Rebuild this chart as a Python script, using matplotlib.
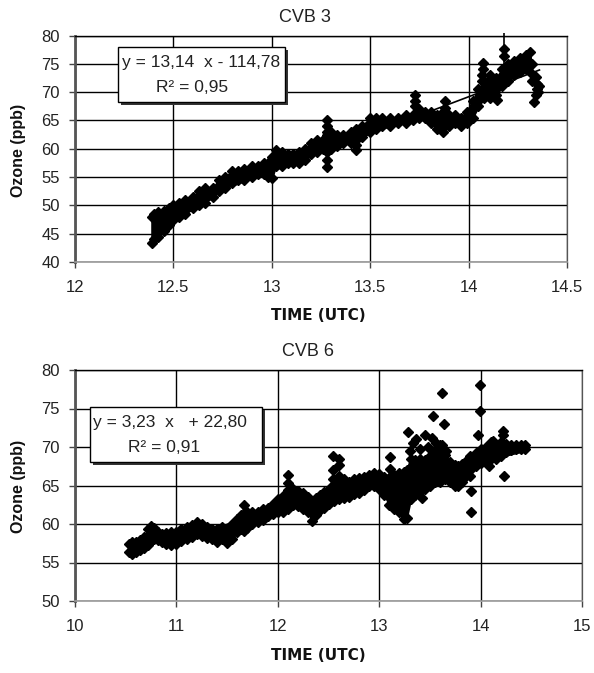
import matplotlib
matplotlib.use("Agg")
import matplotlib.pyplot as plt
from matplotlib.patches import Rectangle
import numpy as np

# ---------------- data: CVB 3 ----------------
cvb3_x  = [12.39, 12.40, 12.42, 12.45, 12.48, 12.50, 12.53, 12.56, 12.60, 12.63, 12.66, 12.70,
           12.73, 12.76, 12.80, 12.83, 12.86, 12.90, 12.93, 12.96, 12.98, 13.00, 13.02, 13.05,
           13.08, 13.11, 13.14, 13.17, 13.20, 13.23, 13.26, 13.28, 13.30, 13.33, 13.36, 13.40,
           13.43, 13.46, 13.50, 13.53, 13.56, 13.60, 13.64, 13.68, 13.72, 13.75, 13.78, 13.81,
           13.84, 13.87, 13.90, 13.93, 13.96, 13.99, 14.02, 14.05, 14.08, 14.11, 14.14, 14.17,
           14.20, 14.23, 14.26, 14.29, 14.31, 14.32]
cvb3_lo = [43.3, 44.0, 44.5, 45.5, 46.5, 47.5, 48.0, 48.5, 49.5, 50.0, 50.5, 51.5,
           52.5, 53.0, 54.0, 54.5, 54.5, 55.0, 55.5, 55.5, 55.0, 54.8, 57.0, 57.0,
           57.5, 57.5, 57.5, 58.0, 59.0, 59.5, 60.0, 59.5, 60.0, 60.5, 61.0, 61.0,
           61.5, 62.0, 63.0, 63.5, 64.0, 64.0, 64.5, 64.5, 65.0, 65.5, 65.5, 64.5,
           63.5, 63.0, 64.0, 64.5, 64.0, 64.5, 65.5, 67.5, 69.0, 69.0, 69.5, 71.0,
           72.0, 73.0, 73.5, 74.0, 73.5, 72.0]
cvb3_hi = [48.0, 48.5, 48.9, 49.0, 49.5, 50.0, 50.5, 51.0, 51.5, 52.5, 53.0, 53.0,
           54.5, 55.0, 56.0, 56.0, 56.5, 57.0, 57.0, 57.5, 57.5, 58.5, 59.8, 59.5,
           59.0, 59.0, 59.5, 60.0, 61.0, 61.5, 61.5, 62.5, 63.0, 62.5, 62.5, 63.0,
           63.5, 64.0, 65.5, 65.5, 65.5, 65.5, 65.5, 66.0, 66.0, 67.0, 66.5, 66.5,
           66.0, 66.5, 66.0, 66.0, 65.5, 66.5, 68.5, 70.5, 72.0, 73.0, 72.5, 74.0,
           75.0, 75.5, 76.0, 76.5, 77.0, 75.0]
cvb3_out_x = [13.28, 13.28, 13.28, 13.28, 13.28, 13.43, 13.43, 13.73, 13.73, 13.73, 13.88, 13.88,
              14.075, 14.075, 14.07, 14.07, 14.18, 14.18, 14.145, 14.33, 14.34, 14.35, 14.35,
              14.34, 14.355, 14.36]
cvb3_out_y = [65.1, 64.0, 63.0, 56.8, 58.0, 59.7, 60.6, 69.5, 68.5, 67.5, 68.4, 67.2,
              75.1, 74.0, 73.0, 72.0, 77.7, 76.3, 68.6, 68.3, 69.5, 70.5, 71.5,
              72.7, 70.0, 71.0]
cvb3_spike_x = [14.18]
cvb3_spike_lo = [73.0]
cvb3_spike_hi = [80.5]
cvb3_slope, cvb3_icpt = 13.14, -114.78
cvb3_xr = [12.39, 14.36]

# ---------------- data: CVB 6 ----------------
cvb6_x  = [10.53, 10.56, 10.60, 10.64, 10.68, 10.72, 10.75, 10.78, 10.82, 10.86, 10.90, 10.95,
           11.00, 11.05, 11.10, 11.15, 11.20, 11.25, 11.30, 11.35, 11.40, 11.45, 11.50, 11.55,
           11.60, 11.64, 11.67, 11.70, 11.75, 11.80, 11.85, 11.90, 11.95, 12.00, 12.05, 12.10,
           12.15, 12.20, 12.25, 12.30, 12.34, 12.38, 12.42, 12.46, 12.50, 12.55, 12.60, 12.65,
           12.70, 12.75, 12.80, 12.85, 12.90, 12.95, 13.00, 13.05, 13.10, 13.15, 13.20, 13.24,
           13.27, 13.31, 13.35, 13.40, 13.45, 13.50, 13.55, 13.60, 13.65, 13.70, 13.75, 13.78,
           13.82, 13.86, 13.90, 13.95, 14.00, 14.05, 14.10, 14.15, 14.20, 14.25, 14.30, 14.35,
           14.40, 14.44]
cvb6_lo = [56.3, 56.1, 56.3, 56.6, 56.9, 57.3, 57.8, 58.0, 57.9, 57.6, 57.4, 57.3,
           57.4, 57.8, 58.0, 58.3, 58.7, 58.5, 58.2, 58.0, 57.6, 58.1, 57.5, 58.1,
           59.0, 59.4, 59.1, 59.5, 60.0, 60.2, 60.5, 61.0, 61.3, 61.6, 61.6, 62.0,
           62.5, 62.4, 62.0, 61.5, 60.4, 61.2, 61.8, 62.1, 62.6, 63.0, 63.2, 63.4,
           63.5, 63.9, 64.0, 64.4, 64.9, 65.0, 64.6, 63.8, 62.5, 62.0, 61.5, 60.6,
           60.8, 63.3, 63.8, 64.2, 64.6, 65.0, 65.4, 65.5, 65.8, 65.4, 65.0, 64.9,
           65.5, 66.2, 67.0, 67.5, 67.9, 68.0, 68.4, 68.4, 68.8, 69.3, 69.6, 69.7,
           69.7, 69.7]
cvb6_hi = [57.4, 57.6, 57.6, 57.9, 58.3, 59.3, 59.8, 59.5, 58.9, 58.7, 58.8, 58.9,
           59.0, 59.3, 59.6, 59.9, 60.3, 60.0, 59.6, 59.4, 59.3, 59.6, 59.4, 60.0,
           60.6, 61.2, 62.5, 61.5, 61.5, 61.6, 61.9, 62.1, 62.6, 63.2, 63.6, 64.4,
           64.5, 64.3, 64.0, 63.5, 63.0, 63.4, 63.8, 64.1, 64.6, 65.2, 65.6, 65.8,
           65.5, 65.8, 66.0, 66.1, 66.4, 66.6, 66.5, 66.1, 66.0, 66.3, 66.6, 66.8,
           67.0, 68.5, 68.3, 68.5, 68.3, 68.8, 69.5, 69.8, 69.0, 68.0, 67.6, 67.5,
           67.8, 68.2, 68.8, 69.2, 69.8, 70.0, 70.6, 70.2, 70.6, 70.4, 70.3, 70.3,
           70.3, 70.2]
cvb6_out_x = [12.10, 12.10, 12.54, 12.54, 12.54, 12.60, 12.60, 12.60, 13.11, 13.11, 13.11,
              13.28, 13.30, 13.33, 13.36, 13.40, 13.45, 13.48, 13.53, 13.42, 13.56, 13.58,
              13.62, 13.64, 13.62, 13.66, 13.91, 13.91, 13.90, 13.99, 13.99, 13.97, 14.22,
              14.23, 14.22, 14.12, 14.08, 13.52, 13.60]
cvb6_out_y = [66.4, 65.3, 68.8, 67.0, 65.8, 68.5, 67.6, 66.2, 68.7, 67.2, 66.1,
              71.9, 69.5, 70.5, 71.0, 69.8, 71.6, 70.0, 74.0, 63.4, 70.5, 70.0,
              77.0, 73.0, 70.3, 69.5, 64.3, 61.5, 66.2, 78.0, 74.7, 71.6, 72.1,
              66.2, 71.5, 70.8, 67.5, 71.2, 70.2]
cvb6_slope, cvb6_icpt = 3.23, 22.80
cvb6_xr = [10.53, 14.44]

W, H = 594, 673
fig = plt.figure(figsize=(W / 100, H / 100), dpi=100)
FONT = "Liberation Sans"
TXT = "#222222"
MS = 5.5


def px_axes(l, t, r, b):
    return [l / W, 1 - b / H, (r - l) / W, (b - t) / H]


def style(ax, xlim, ylim, xticks, yticks):
    ax.set_xlim(*xlim)
    ax.set_ylim(*ylim)
    ax.set_xticks(xticks)
    ax.set_yticks(yticks)
    ax.set_xticklabels([("%g" % v) for v in xticks], fontfamily=FONT, fontsize=12, color=TXT)
    ax.set_yticklabels([("%g" % v) for v in yticks], fontfamily=FONT, fontsize=12, color=TXT)
    ax.grid(True, color="black", lw=1.0)
    ax.set_axisbelow(True)
    ax.tick_params(direction="out", length=4, width=1, color="#444444")
    ax.tick_params(axis="x", pad=9)
    ax.tick_params(axis="y", pad=7)
    ax.spines["left"].set_color("#555555")
    ax.spines["left"].set_linewidth(2.0)
    ax.spines["bottom"].set_color("#999999")
    ax.spines["bottom"].set_linewidth(1.2)
    ax.spines["top"].set_color("black")
    ax.spines["top"].set_linewidth(1.0)
    ax.spines["right"].set_color("#555555")
    ax.spines["right"].set_linewidth(0.9)


def draw(ax, x, lo, hi, ox, oy, slope, icpt, xr):
    ax.fill_between(x, lo, hi, color="black", lw=1.5, zorder=3)
    ax.plot(x, lo, ls="none", marker="D", ms=MS, color="black", zorder=4)
    ax.plot(x, hi, ls="none", marker="D", ms=MS, color="black", zorder=4)
    ax.plot(ox, oy, ls="none", marker="D", ms=MS, color="black", zorder=4)
    xr = np.array(xr)
    ax.plot(xr, slope * xr + icpt, color="black", lw=1.2, zorder=5)


def box(l, t, r, b):
    sh = Rectangle(((l + 3) / W, 1 - (b + 3) / H), (r - l) / W, (b - t) / H,
                   transform=fig.transFigure, facecolor="#333333", edgecolor="none", zorder=10)
    bx = Rectangle((l / W, 1 - b / H), (r - l) / W, (b - t) / H,
                   transform=fig.transFigure, facecolor="white", edgecolor="black", lw=1.0, zorder=11)
    fig.add_artist(sh)
    fig.add_artist(bx)


# ---- top chart ----
ax1 = fig.add_axes(px_axes(75, 35.5, 567, 262))
style(ax1, (12, 14.5), (40, 80), [12, 12.5, 13, 13.5, 14, 14.5], list(range(40, 81, 5)))
draw(ax1, cvb3_x, cvb3_lo, cvb3_hi, cvb3_out_x, cvb3_out_y, cvb3_slope, cvb3_icpt, cvb3_xr)
ax1.vlines(cvb3_spike_x, cvb3_spike_lo, cvb3_spike_hi, color="black", lw=1.2, zorder=4, clip_on=False)

# ---- bottom chart ----
ax2 = fig.add_axes(px_axes(75, 370, 582, 601))
style(ax2, (10, 15), (50, 80), [10, 11, 12, 13, 14, 15], list(range(50, 81, 5)))
draw(ax2, cvb6_x, cvb6_lo, cvb6_hi, cvb6_out_x, cvb6_out_y, cvb6_slope, cvb6_icpt, cvb6_xr)

# titles and labels
fig.text(305 / W, 1 - 17 / H, "CVB 3", ha="center", va="center", fontfamily=FONT, fontsize=13, color=TXT)
fig.text(308 / W, 1 - 352 / H, "CVB 6", ha="center", va="center", fontfamily=FONT, fontsize=13, color=TXT)
fig.text(318 / W, 1 - 316 / H, "TIME (UTC)", ha="center", va="center", fontfamily="DejaVu Sans",
         fontweight="bold", fontsize=11, color="#111111")
fig.text(318 / W, 1 - 655 / H, "TIME (UTC)", ha="center", va="center", fontfamily="DejaVu Sans",
         fontweight="bold", fontsize=11, color="#111111")
fig.text(19 / W, 1 - 150 / H, "Ozone (ppb)", ha="center", va="center", rotation=90,
         fontfamily=FONT, fontweight="bold", fontsize=11.5, color="#111111")
fig.text(19 / W, 1 - 486 / H, "Ozone (ppb)", ha="center", va="center", rotation=90,
         fontfamily=FONT, fontweight="bold", fontsize=11.5, color="#111111")

# equation boxes
box(118, 47, 285, 102)
fig.text(201 / W, 1 - 62 / H, "y = 13,14  x - 114,78", ha="center", va="center",
         fontfamily=FONT, fontsize=12.5, color=TXT, zorder=12)
fig.text(192 / W, 1 - 88 / H, "R\u00b2 = 0,95", ha="center", va="center",
         fontfamily=FONT, fontsize=12.5, color=TXT, zorder=12)
box(90, 407, 262, 462)
fig.text(170 / W, 1 - 422 / H, "y = 3,23  x   + 22,80", ha="center", va="center",
         fontfamily=FONT, fontsize=12.5, color=TXT, zorder=12)
fig.text(164 / W, 1 - 447 / H, "R\u00b2 = 0,91", ha="center", va="center",
         fontfamily=FONT, fontsize=12.5, color=TXT, zorder=12)

fig.savefig("out.png", dpi=100)
